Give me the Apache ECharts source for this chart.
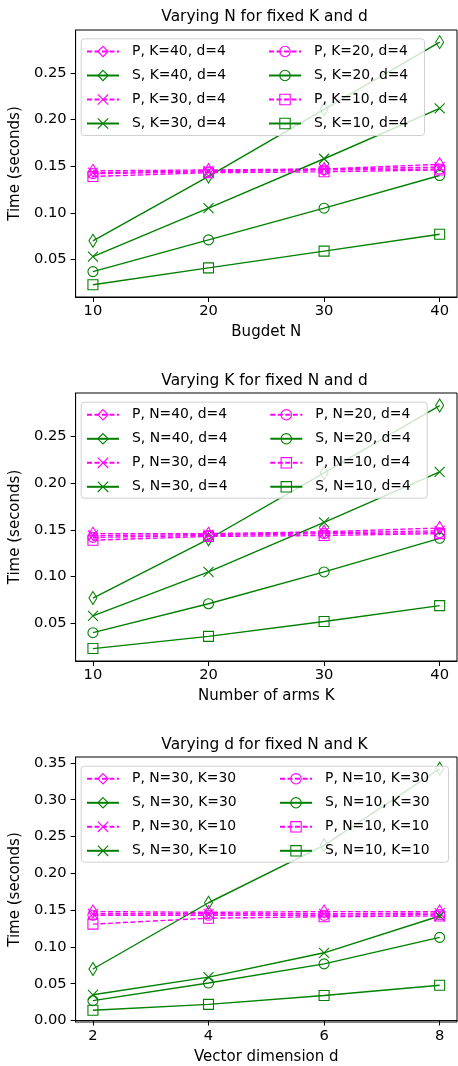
<!DOCTYPE html>
<html><head><meta charset="utf-8">
<script src="https://cdn.jsdelivr.net/npm/echarts@6/dist/echarts.min.js"></script>
<style>html,body{margin:0;padding:0;background:#fff}#c{width:458px;height:1066px}</style>
</head><body><div id="c"></div>
<script>
// ---------- data ----------
const xN = [10, 20, 30, 40];
const xK = [10, 20, 30, 40];
const xD = [2, 4, 6, 8];

const titles = ['Varying N for fixed K and d', 'Varying K for fixed N and d', 'Varying d for fixed N and K'];
const xNames = ['Bugdet N', 'Number of arms K', 'Vector dimension d'];
const yName = 'Time (seconds)';

// panel 1
const names1 = ['P, K=40, d=4','S, K=40, d=4','P, K=30, d=4','S, K=30, d=4','P, K=20, d=4','S, K=20, d=4','P, K=10, d=4','S, K=10, d=4'];
const P_K40 = [0.145, 0.146, 0.147, 0.152];
const S_K40 = [0.070, 0.139, 0.211, 0.283];
const P_K30 = [0.143, 0.145, 0.147, 0.149];
const S_K30 = [0.053, 0.105, 0.158, 0.212];
const P_K20 = [0.142, 0.144, 0.146, 0.147];
const S_K20 = [0.037, 0.071, 0.105, 0.140];
const P_K10 = [0.139, 0.143, 0.144, 0.146];
const S_K10 = [0.023, 0.041, 0.059, 0.077];

// panel 2
const names2 = ['P, N=40, d=4','S, N=40, d=4','P, N=30, d=4','S, N=30, d=4','P, N=20, d=4','S, N=20, d=4','P, N=10, d=4','S, N=10, d=4'];
const P_N40 = [0.146, 0.146, 0.148, 0.152];
const S_N40 = [0.077, 0.140, 0.211, 0.283];
const P_N30 = [0.144, 0.145, 0.147, 0.149];
const S_N30 = [0.058, 0.105, 0.158, 0.212];
const P_N20 = [0.142, 0.144, 0.146, 0.147];
const S_N20 = [0.040, 0.071, 0.105, 0.141];
const P_N10 = [0.139, 0.143, 0.144, 0.146];
const S_N10 = [0.023, 0.036, 0.052, 0.069];

// panel 3
const names3 = ['P, N=30, K=30','S, N=30, K=30','P, N=30, K=10','S, N=30, K=10','P, N=10, K=30','S, N=10, K=30','P, N=10, K=10','S, N=10, K=10'];
const P_30_30 = [0.148, 0.147, 0.148, 0.148];
const S_30_30 = [0.070, 0.160, 0.238, 0.342];
const P_30_10 = [0.145, 0.145, 0.145, 0.146];
const S_30_10 = [0.035, 0.059, 0.092, 0.142];
const P_10_30 = [0.143, 0.143, 0.143, 0.144];
const S_10_30 = [0.027, 0.051, 0.077, 0.113];
const P_10_10 = [0.131, 0.139, 0.141, 0.142];
const S_10_10 = [0.014, 0.022, 0.034, 0.048];

const xTicks = [[10,20,30,40],[10,20,30,40],[2,4,6,8]];
const yTicks = [[0.05,0.10,0.15,0.20,0.25],[0.05,0.10,0.15,0.20,0.25],[0.00,0.05,0.10,0.15,0.20,0.25,0.30,0.35]];

// ---------- layout / style ----------
const FONT = 'DejaVu Sans';
const GREEN = '#008000', MAG = '#ff00ff';
const grids = [
  {left:72, right:1, top:30, bottom:769},
  {left:72, right:1, top:393, bottom:405},
  {left:72, right:1, top:757, bottom:42}
];
const xRanges = [[8.5,41.5],[8.5,41.5],[1.7,8.3]];
const yRanges = [[0.0098,0.296],[0.0097,0.2965],[-0.002,0.358]];
const SYM = {
  diamond: {symbol:'diamond', size:[8,13]},
  x: {symbol:'path://M0,0L10,10M10,0L0,10', size:[10,10]},
  circle: {symbol:'circle', size:[10,10]},
  square: {symbol:'rect', size:[10,10]}
};
const symOrder = ['diamond','diamond','x','x','circle','circle','square','square'];

const panels = [
  {x:xN, names:names1, data:[P_K40,S_K40,P_K30,S_K30,P_K20,S_K20,P_K10,S_K10]},
  {x:xK, names:names2, data:[P_N40,S_N40,P_N30,S_N30,P_N20,S_N20,P_N10,S_N10]},
  {x:xD, names:names3, data:[P_30_30,S_30_30,P_30_10,S_30_10,P_10_30,S_10_30,P_10_10,S_10_10]}
];
const legendBoxes = [
  {x:80.7, y:38.3, w:343.3, h:96.7, rowTop:44.5, col2:268},
  {x:80.7, y:401.7, w:346, h:96, rowTop:407.8, col2:269.3},
  {x:80.7, y:765.7, w:367.3, h:96, rowTop:771.8, col2:279}
];
const titleCenterY = [18, 382.7, 746];

const option = {
  animation:false,
  textStyle:{fontFamily:FONT},
  title:[], grid:[], xAxis:[], yAxis:[], series:[], legend:[], graphic:[]
};

panels.forEach((p, i) => {
  const g = grids[i];
  option.grid.push(Object.assign({show:true, borderColor:'#000', borderWidth:1, backgroundColor:'transparent'}, g));
  option.title.push({
    text:titles[i], left:(g.left + 458 - g.right)/2, top: titleCenterY[i] - 9, textAlign:'center', padding:0,
    textStyle:{fontFamily:FONT, fontSize:15.4, fontWeight:'normal', color:'#000'}
  });
  option.xAxis.push({
    type:'value', gridIndex:i, min:xRanges[i][0], max:xRanges[i][1],
    name:xNames[i], nameLocation:'middle', nameGap:28,
    nameTextStyle:{fontFamily:FONT, fontSize:15, color:'#000'},
    axisLine:{show:true, lineStyle:{color:'#000', width:1}},
    axisTick:{show:true, length:5, inside:false, lineStyle:{color:'#000'}, customValues:xTicks[i]},
    axisLabel:{show:true, margin:7, fontFamily:FONT, fontSize:14.7, color:'#000', customValues:xTicks[i]},
    splitLine:{show:false}
  });
  option.yAxis.push({
    type:'value', gridIndex:i, min:yRanges[i][0], max:yRanges[i][1],
    name:yName, nameLocation:'middle', nameGap:41, nameRotate:90,
    nameTextStyle:{fontFamily:FONT, fontSize:15, color:'#000'},
    axisLine:{show:true, lineStyle:{color:'#000', width:1}},
    axisTick:{show:true, length:5, inside:false, lineStyle:{color:'#000'}, customValues:yTicks[i]},
    axisLabel:{show:true, margin:9, fontFamily:FONT, fontSize:14.7, color:'#000', customValues:yTicks[i],
      formatter:v => Number(v).toFixed(2)},
    splitLine:{show:false}
  });
  p.names.forEach((nm, k) => {
    const isP = k % 2 === 0;
    const c = isP ? MAG : GREEN;
    const s = SYM[symOrder[k]];
    option.series.push({
      type:'line', name:nm, xAxisIndex:i, yAxisIndex:i,
      data:p.x.map((xv, j) => [xv, p.data[k][j]]),
      symbol:s.symbol, symbolSize:s.size, showSymbol:true,
      lineStyle:{color:c, width:1.4, type: isP ? [5,2.5] : 'solid'},
      itemStyle:{color:'rgba(0,0,0,0)', borderColor:c, borderWidth:1.1},
      emphasis:{disabled:true}, silent:true, z:2
    });
  });
  const lb = legendBoxes[i];
  option.graphic.push({
    type:'rect', left:lb.x, top:lb.y, z:5,
    shape:{width:lb.w, height:lb.h, r:3},
    style:{fill:'rgba(255,255,255,0.8)', stroke:'#d0d0d0', lineWidth:1}
  });
  [0,1].forEach(col => {
    option.legend.push({
      data:p.names.slice(col*4, col*4+4), orient:'vertical',
      left: col === 0 ? 86 : lb.col2, top: lb.rowTop, padding:0,
      itemWidth:32, itemHeight:13, itemGap:10, z:6, selectedMode:false,
      itemStyle:{borderWidth:1.1},
      textStyle:{fontFamily:FONT, fontSize:13.9, color:'#000', padding:[0,0,0,8]}
    });
  });
});

const chart = echarts.init(document.getElementById('c'), null, {renderer:'canvas'});
chart.setOption(option);
</script>
</body></html>
